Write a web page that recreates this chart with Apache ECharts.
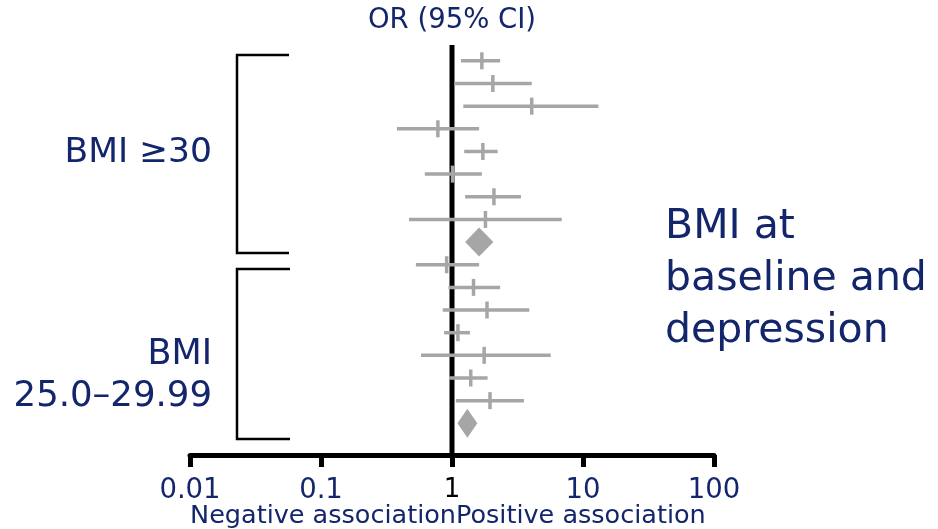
<!DOCTYPE html>
<html>
<head>
<meta charset="utf-8">
<script src="https://cdn.jsdelivr.net/npm/echarts@6/dist/echarts.min.js"></script>
<style>html,body{margin:0;padding:0;background:#fff}#c{width:938px;height:529px}</style>
</head>
<body>
<div id="c"></div>
<script>
// ---- data ----
const studyRows  = [0, 1, 2, 3, 4, 5, 6, 7, 9, 10, 11, 12, 13, 14, 15];
const studyLower = [1.17, 1.04, 1.22, 0.38, 1.24, 0.62, 1.26, 0.47, 0.53, 0.94, 0.85, 0.87, 0.58, 0.95, 1.07];
const studyOR    = [1.69, 2.05, 4.06, 0.78, 1.72, 1.01, 2.09, 1.80, 0.91, 1.46, 1.85, 1.11, 1.76, 1.39, 1.95];
const studyUpper = [2.33, 4.06, 13.1, 1.61, 2.23, 1.69, 3.36, 6.88, 1.61, 2.33, 3.89, 1.37, 5.67, 1.87, 3.54];
const pooledRows  = [8, 16];
const pooledLower = [1.26, 1.10];
const pooledOR    = [1.61, 1.31];
const pooledUpper = [2.07, 1.56];
const tickValues = [0.01, 0.1, 1, 10, 100];
const nullValue = 1;

const NAVY = '#13266b';
const GREY = '#a6a6a6';
const FONT = '"DejaVu Sans", sans-serif';

const studyData = studyRows.map((r, i) => [r, studyLower[i], studyOR[i], studyUpper[i]]);
const pooledData = pooledRows.map((r, i) => [r, pooledLower[i], pooledOR[i], pooledUpper[i]]);

const chart = echarts.init(document.getElementById('c'), null, {renderer: 'canvas'});

function fmt(v) { return String(Number(Number(v).toPrecision(6))); }

chart.setOption({
  animation: false,
  grid: {left: 190, right: 224, top: 45, bottom: 74},
  xAxis: {
    type: 'log', logBase: 10, min: tickValues[0], max: tickValues[tickValues.length - 1],
    position: 'bottom',
    axisLine: {show: true, onZero: false, lineStyle: {color: '#000', width: 5}},
    axisTick: {show: true, length: 12, inside: false, lineStyle: {color: '#000', width: 5}},
    minorTick: {show: false},
    splitLine: {show: false},
    axisLabel: {
      margin: 22, fontSize: 27.5, fontFamily: FONT, color: NAVY,
      formatter: function (v) { const s = fmt(v); return s === '1' ? '{one|1}' : s; },
      rich: {one: {color: '#000', fontSize: 26, fontFamily: FONT, padding: [0, 0, 6, 0]}}
    }
  },
  yAxis: {type: 'value', inverse: true, min: -0.7, max: 17.4, show: false},
  series: [
    {
      type: 'line', data: [[nullValue, -0.7], [nullValue, 17.4]], symbol: 'none',
      lineStyle: {color: '#000', width: 5}, z: 1, silent: true
    },
    {
      type: 'custom', data: studyData, encode: {x: [1, 2, 3], y: 0}, z: 3,
      renderItem: function (params, api) {
        const row = api.value(0);
        const a = api.coord([api.value(1), row]);
        const m = api.coord([api.value(2), row]);
        const b = api.coord([api.value(3), row]);
        const st = {stroke: GREY, lineWidth: 3.5};
        return {type: 'group', children: [
          {type: 'line', shape: {x1: a[0], y1: a[1], x2: b[0], y2: b[1]}, style: st},
          {type: 'line', shape: {x1: m[0], y1: m[1] - 8.5, x2: m[0], y2: m[1] + 8.5}, style: st}
        ]};
      }
    },
    {
      type: 'custom', data: pooledData, encode: {x: [1, 2, 3], y: 0}, z: 3,
      renderItem: function (params, api) {
        const row = api.value(0);
        const a = api.coord([api.value(1), row]);
        const m = api.coord([api.value(2), row]);
        const b = api.coord([api.value(3), row]);
        const h = 14.5;
        return {type: 'polygon', shape: {points: [[a[0], a[1]], [m[0], m[1] - h], [b[0], b[1]], [m[0], m[1] + h]]},
          style: {fill: GREY}};
      }
    }
  ],
  graphic: [
    {type: 'text', style: {text: 'OR (95% CI)', x: 452, y: 21, align: 'center', verticalAlign: 'middle', fill: NAVY, font: '27.5px ' + FONT}},
    {type: 'polyline', shape: {points: [[289, 55], [237, 55], [237, 253], [289, 253]]}, style: {stroke: '#000', lineWidth: 2.5, fill: null}},
    {type: 'polyline', shape: {points: [[290, 269], [237, 269], [237, 439], [290, 439]]}, style: {stroke: '#000', lineWidth: 2.5, fill: null}},
    {type: 'text', style: {text: 'BMI ≥30', x: 212, y: 153, align: 'right', verticalAlign: 'middle', fill: NAVY, font: '34.5px ' + FONT}},
    {type: 'text', style: {text: 'BMI', x: 212, y: 355, align: 'right', verticalAlign: 'middle', fill: NAVY, font: '35px ' + FONT}},
    {type: 'text', style: {text: '25.0–29.99', x: 212, y: 397, align: 'right', verticalAlign: 'middle', fill: NAVY, font: '35.5px ' + FONT}},
    {type: 'text', style: {text: 'BMI at\nbaseline and\ndepression', x: 665, y: 201, align: 'left', verticalAlign: 'top', lineHeight: 52, fill: NAVY, font: '41px ' + FONT}},
    {type: 'text', style: {text: 'Negative association', x: 456, y: 516, align: 'right', verticalAlign: 'middle', fill: NAVY, font: '25.5px ' + FONT}},
    {type: 'text', style: {text: 'Positive association', x: 456, y: 516, align: 'left', verticalAlign: 'middle', fill: NAVY, font: '25.5px ' + FONT}}
  ]
});
</script>
</body>
</html>
